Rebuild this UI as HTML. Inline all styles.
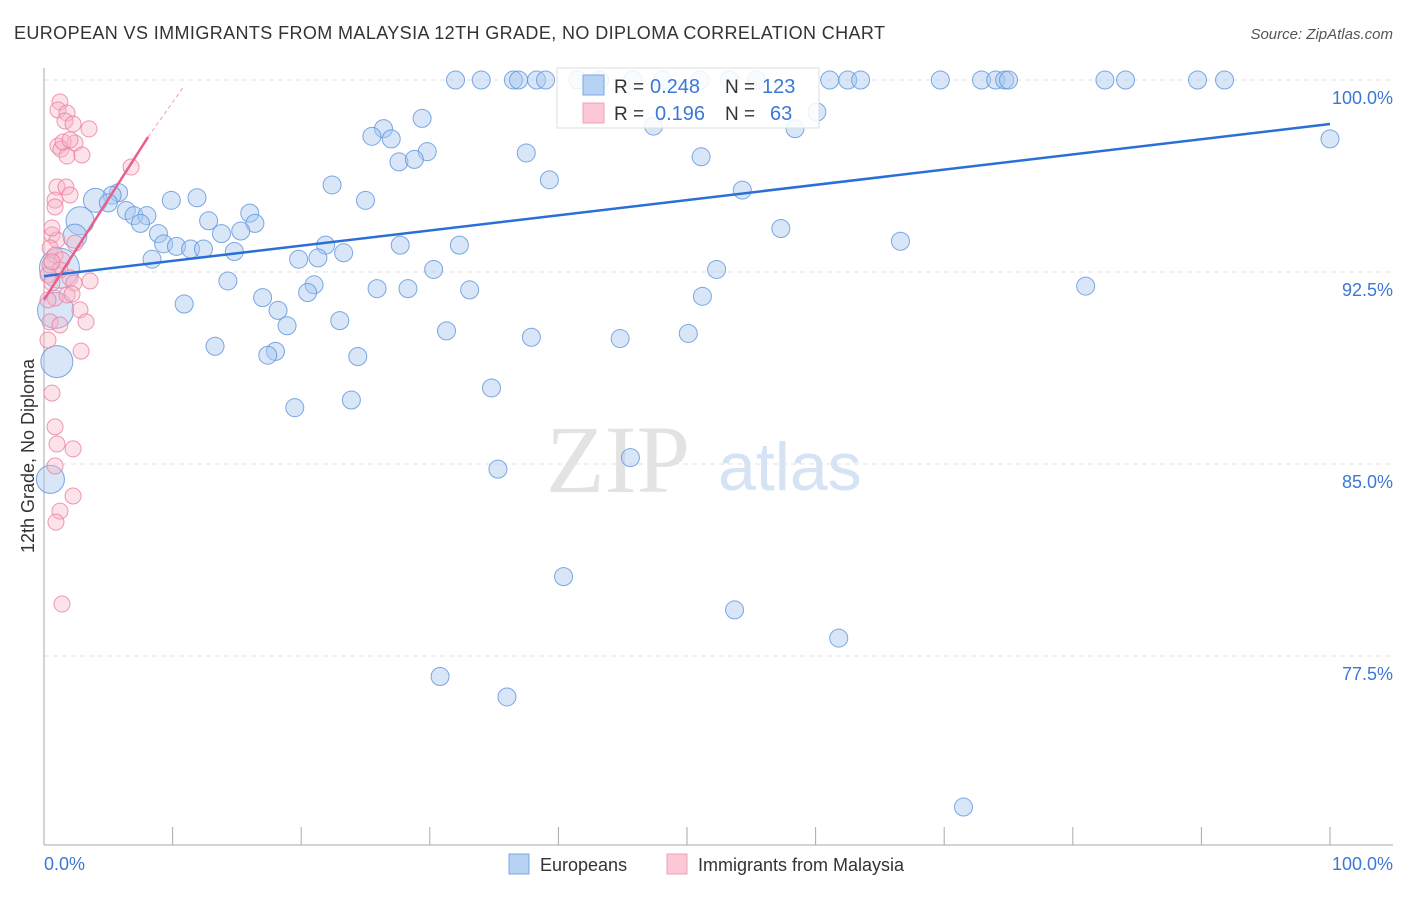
<!DOCTYPE html>
<html><head><meta charset="utf-8"><style>
body{margin:0;background:#fff;font-family:"Liberation Sans",sans-serif}
</style></head><body>
<svg width="1406" height="892" xmlns="http://www.w3.org/2000/svg">
<text x="14" y="39" font-size="18" fill="#333" textLength="871">EUROPEAN VS IMMIGRANTS FROM MALAYSIA 12TH GRADE, NO DIPLOMA CORRELATION CHART</text>
<text x="1393" y="39" font-size="15" fill="#555" font-style="italic" text-anchor="end">Source: ZipAtlas.com</text>
<text x="690" y="492" font-size="96" fill="#e3e3e3" font-family="Liberation Serif,serif" text-anchor="end">ZIP</text>
<text x="718" y="490" font-size="68" fill="#d5e3f5">atlas</text>
<g id="grid"></g>
<g id="axes"></g>
<g id="marks"></g>
<text transform="translate(34,456) rotate(-90)" font-size="18" fill="#333" text-anchor="middle">12th Grade, No Diploma</text>
<g>
<rect x="557" y="68" width="262" height="60" fill="#fff" fill-opacity="0.85" stroke="#ddd"/>
<rect x="583" y="75" width="21" height="20" fill="#b7d2f3" stroke="#7aa7e3"/>
<rect x="583" y="103" width="21" height="20" fill="#fcc8d6" stroke="#f0a0b8"/>
<text x="614" y="93" font-size="19" fill="#333">R =</text>
<text x="650" y="93" font-size="20" fill="#3b78d6">0.248</text>
<text x="725" y="93" font-size="19" fill="#333">N =</text>
<text x="762" y="93" font-size="20" fill="#3b78d6">123</text>
<text x="614" y="120" font-size="19" fill="#333">R =</text>
<text x="655" y="120" font-size="20" fill="#3b78d6">0.196</text>
<text x="725" y="120" font-size="19" fill="#333">N =</text>
<text x="770" y="120" font-size="20" fill="#3b78d6">63</text>
</g>
<g>
<rect x="509" y="854" width="20" height="20" fill="#b7d2f3" stroke="#7aa7e3"/>
<text x="540" y="871" font-size="18" fill="#333">Europeans</text>
<rect x="667" y="854" width="20" height="20" fill="#fcc8d6" stroke="#f0a0b8"/>
<text x="698" y="871" font-size="18" fill="#333">Immigrants from Malaysia</text>
</g>
</svg>
<script>
const yTicks=[100,92.5,85,77.5];
const yTickLabels=["100.0%","92.5%","85.0%","77.5%"];
const xTickLabels=["0.0%","100.0%"];
const blueX=[32.0,34.0,36.5,36.9,38.3,39.0,41.5,43.2,45.8,48.1,51.0,53.3,55.4,61.1,62.5,63.5,69.7,72.9,74.0,74.7,75.0,82.5,84.1,89.7,91.8,
60.1,47.4,58.4,100,29.4,26.4,25.5,27.0,29.8,37.5,51.1,27.6,28.8,39.3,54.3,22.4,25.0,5.8,5.3,11.9,4.0,5.0,9.9,6.4,7.0,8.0,7.5,12.8,16.0,16.4,15.3,13.8,8.9,9.3,10.3,11.4,12.4,14.8,8.4,2.8,2.4,57.3,66.6,21.9,23.3,27.7,32.3,19.8,21.3,30.3,52.3,14.3,21.0,20.5,25.9,28.3,33.1,81.0,17.0,51.2,10.9,18.2,23.0,18.9,31.3,50.1,37.9,44.8,13.3,18.0,17.4,24.4,1.0,34.8,23.9,19.5,45.6,35.3,0.5,40.4,53.7,61.8,30.8,36.0,71.5,0.9,1.2];
const blueY=[100,100,100,100,100,100,100,100,100,100,100,100,100,100,100,100,100,100,100,100,100,100,100,100,100,
98.75,98.2,98.1,97.7,98.5,98.1,97.8,97.7,97.2,97.15,97.0,96.8,96.9,96.1,95.7,95.9,95.3,95.6,95.5,95.4,95.3,95.2,95.3,94.9,94.7,94.7,94.4,94.5,94.8,94.4,94.1,94.0,94.0,93.6,93.5,93.4,93.4,93.3,93.0,94.5,93.9,94.2,93.7,93.55,93.25,93.55,93.55,93.0,93.05,92.6,92.6,92.15,92.0,91.7,91.85,91.85,91.8,91.95,91.5,91.55,91.25,91.0,90.6,90.4,90.2,90.1,89.95,89.9,89.6,89.4,89.25,89.2,89.0,87.97,87.5,87.2,85.25,84.8,84.4,80.6,79.3,78.2,76.7,75.9,71.6,91.0,92.65];
const blueSize=[9,9,9,9,9,9,9,9,9,9,9,9,9,9,9,9,9,9,9,9,9,9,9,9,9,
9,9,9,9,9,9,9,9,9,9,9,9,9,9,9,9,9,9,9,9,12,9,9,9,9,9,9,9,9,9,9,9,9,9,9,9,9,9,9,14,12,9,9,9,9,9,9,9,9,9,9,9,9,9,9,9,9,9,9,9,9,9,9,9,9,9,9,9,9,9,9,9,16,9,9,9,9,9,14,9,9,9,9,9,9,18,20];
const pinkX=[1.24,1.09,1.79,1.63,2.26,3.50,1.09,1.32,1.79,2.41,2.95,6.77,1.48,2.02,1.01,1.71,2.02,0.86,0.86,0.62,1.01,2.41,0.47,0.86,1.40,0.47,1.24,0.31,2.02,3.58,0.62,2.33,0.86,1.79,2.18,0.31,2.80,3.27,0.47,1.24,0.31,2.88,0.62,0.86,1.01,2.26,0.86,2.26,1.24,0.93,1.40,0.62,0.62];
const pinkY=[99.14,98.83,98.71,98.40,98.28,98.09,97.42,97.30,97.03,97.54,97.07,96.60,97.58,97.66,95.82,95.82,95.51,95.31,95.04,93.95,93.75,93.63,93.44,93.16,92.97,92.77,92.58,92.38,92.27,92.15,92.07,92.07,91.48,91.60,91.64,91.41,91.02,90.55,90.55,90.43,89.84,89.41,87.77,86.45,85.78,85.59,84.92,83.75,83.16,82.73,79.53,94.22,92.9];
const blueTrend=[92.34,98.28];
const pinkTrend=[91.41,97.77,99.7];
const pinkTrendX=[0,8.09,10.8];

const X0=44,X1=1330,Y100=80,PXPER=25.6;
const xs=v=>X0+(X1-X0)*v/100;
const ys=v=>Y100+(100-v)*PXPER;
const NS='http://www.w3.org/2000/svg';
function mk(tag,attrs,parent){const e=document.createElementNS(NS,tag);for(const k in attrs)e.setAttribute(k,attrs[k]);parent.appendChild(e);return e;}
const grid=document.getElementById('grid'),axes=document.getElementById('axes'),marks=document.getElementById('marks');
yTicks.forEach((t,i)=>{
 const l=mk('line',{x1:X0,x2:1393,y1:ys(t),y2:ys(t),stroke:'#e2e2e2','stroke-dasharray':'5,4'},grid);
 
 
 const tx=mk('text',{x:1393,y:ys(t)+24,'font-size':18,fill:'#3b78d6','text-anchor':'end'},axes);
 tx.textContent=yTickLabels[i];
 
 
});
let a=mk('line',{x1:X0,x2:X0,y1:68,y2:845,stroke:'#aaa'},axes);


a=mk('line',{x1:X0,x2:1393,y1:845,y2:845,stroke:'#aaa'},axes);


for(let i=1;i<=10;i++){
 const t=mk('line',{x1:xs(i*10),x2:xs(i*10),y1:827,y2:845,stroke:'#aaa'},axes);
 
 
}
let xl=mk('text',{x:44,y:870,'font-size':18,fill:'#3b78d6'},axes);xl.textContent=xTickLabels[0];


xl=mk('text',{x:1393,y:870,'font-size':18,fill:'#3b78d6','text-anchor':'end'},axes);xl.textContent=xTickLabels[1];


blueX.forEach((v,i)=>{
 const c=mk('circle',{cx:xs(v),cy:ys(blueY[i]),r:blueSize[i],fill:'#a9c8f0','fill-opacity':0.45,stroke:'#5c93dc','stroke-opacity':0.8,'stroke-width':1},marks);
 
 
});
pinkX.forEach((v,i)=>{
 const c=mk('circle',{cx:xs(v),cy:ys(pinkY[i]),r:8,fill:'#f7b6c9','fill-opacity':0.4,stroke:'#ec7fa0','stroke-opacity':0.8,'stroke-width':1},marks);
 
 
});
let tl=mk('line',{x1:xs(0),y1:ys(blueTrend[0]),x2:xs(100),y2:ys(blueTrend[1]),stroke:'#2a6fd6','stroke-width':2.5},marks);


tl=mk('line',{x1:xs(pinkTrendX[0]),y1:ys(pinkTrend[0]),x2:xs(pinkTrendX[1]),y2:ys(pinkTrend[1]),stroke:'#e8608a','stroke-width':2.5},marks);


tl=mk('line',{x1:xs(pinkTrendX[1]),y1:ys(pinkTrend[1]),x2:xs(pinkTrendX[2]),y2:ys(pinkTrend[2]),stroke:'#f0a0b8','stroke-width':1,'stroke-dasharray':'4,3'},marks);


</script>
</body></html>
